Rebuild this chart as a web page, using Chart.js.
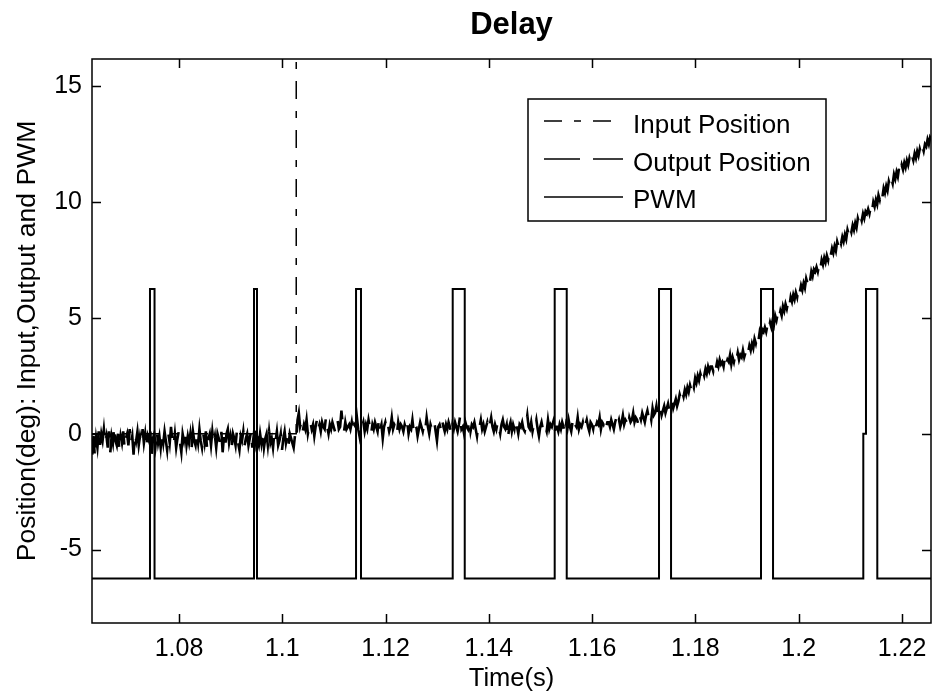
<!DOCTYPE html>
<html>
<head>
<meta charset="utf-8">
<title>Delay</title>
<script src="https://cdn.jsdelivr.net/npm/chart.js@4.4.1/dist/chart.umd.min.js"></script>
<style>
  html, body { margin: 0; padding: 0; background: #fff; }
  canvas { display: block; }
</style>
</head>
<body>
<canvas id="grafico" width="932" height="698"></canvas>
<script>
// limites dos eixos
const X_MIN = 1.06315, X_MAX = 1.22562;
const Y_MIN = -8.17, Y_MAX = 16.18;

const xTickValues = [1.08, 1.10, 1.12, 1.14, 1.16, 1.18, 1.20, 1.22];
const xTickLabels = ['1.08', '1.1', '1.12', '1.14', '1.16', '1.18', '1.2', '1.22'];
const yTickValues = [-5, 0, 5, 10, 15];
const yTickLabels = ['-5', '0', '5', '10', '15'];

// entrada: degrau em t = 1.1027 (sai do topo do grafico)
const inputTimes = [1.06315, 1.1027, 1.1027, 1.22562];
const inputValues = [0, 0, 40, 40];

// saida: amostrada a cada 0.25 ms a partir de 1.0632 s (uma linha = 10 ms)
const outputStart = 1.0632;
const outputStep = 0.00025;
const outputValues = [
  -0.9, -0.1, -1.0, -0.2, -0.6, 0.1, -0.5, 0.0, -0.3, 0.2, -0.4, -0.1, -0.6, 0.1, -0.8, -0.1, -0.4, 0.3, -0.3, -0.5,
  0.0, -0.7, -0.1, -0.4, 0.1, -0.6, -0.2, 0.0, -0.5, 0.2, -0.4, -0.1, -0.9, 0.0, -0.3, 0.1, -0.5, -0.1, -0.4, 0.2,
  -0.4, 0.0, -0.6, -0.1, -0.3, 0.1, -1.0, -0.2, 0.0, -0.5, 0.1, -0.4, -0.1, -0.6, 0.0, -0.4, 0.1, -0.3, -0.7, 0.0,
  -0.4, 0.3, -0.3, -0.5, 0.0, -0.6, -0.2, 0.1, -0.4, -0.8, 0.0, -0.3, 0.1, -0.5, -0.1, -0.4, 0.0, -0.6, 0.1, -0.3,
  -0.5, 0.0, -0.4, 0.2, -0.3, -0.6, 0.0, -0.4, 0.1, -0.7, -0.2, 0.0, -0.5, 0.1, -0.4, -0.1, -0.6, 0.0, -0.2, -0.4,
  0.1, -0.8, -0.1, -0.5, 0.0, 0.2, -0.4, -0.1, -0.6, 0.0, -0.2, -0.5, 0.1, -0.4, -0.7, -0.1, -0.3, 0.1, -0.5, -0.2,
  0.0, -0.5, -0.2, 0.1, -0.6, -0.1, -0.4, 0.3, -0.3, -0.5, 0.0, -0.4, 0.1, -0.6, -0.2, 0.0, -0.5, 0.1, -0.4, -0.2,
  -0.6, 0.0, -0.3, 0.1, -0.5, -0.3, 0.0, -0.7, -0.2, 0.1, -0.4, -0.1, -0.5, 0.0, -0.2, -0.4, -0.6, -0.1, -0.3, 0.6,
  0.9, 0.3, 0.5, 0.1, 0.4, 0.2, 0.6, 0.0, 0.3, 0.5, 0.2, 0.4, -0.1, 0.3, 0.6, 0.2, 0.4, 0.1, 0.5, 0.3,
  0.2, 0.7, 0.3, 0.0, 0.4, 0.2, 0.5, 0.3, 0.1, 0.4, 0.6, 0.2, 0.3, 1.0, 0.4, 0.1, 0.5, 0.2, 0.3, 0.4,
  0.2, 0.5, 0.1, 0.4, 0.3, 0.7, 0.2, -0.1, 0.4, 0.3, 0.5, 0.1, 0.4, 0.2, 0.6, 0.3, 0.0, 0.4, 0.2, 0.5,
  0.3, 0.1, 0.6, 0.2, 0.4, -0.2, 0.3, 0.5, 0.2, 0.4, 0.1, 0.3, 0.7, 0.2, 0.4, 0.3, 0.0, 0.5, 0.2, 0.4,
  0.3, 0.1, 0.4, 0.2, 0.5, 0.0, 0.3, 0.2, 0.6, 0.1, 0.4, 0.3, -0.1, 0.2, 0.5, 0.3, 0.1, 0.4, 0.2, 0.7,
  0.3, 0.0, 0.4, 0.2, 0.3, 0.5, 0.1, -0.3, 0.3, 0.4, 0.2, 0.6, 0.3, 0.1, 0.4, 0.2, 0.5, 0.3, 0.0, 0.4,
  0.2, 0.5, 0.3, 0.1, 0.4, 0.8, 0.2, 0.3, 0.0, 0.5, 0.3, 0.2, 0.6, 0.1, 0.4, 0.3, 0.5, 0.2, -0.1, 0.4,
  0.3, 0.6, 0.2, 0.4, 0.1, 0.3, 0.5, 0.2, 0.4, 0.7, 0.3, 0.1, 0.4, 0.2, 0.5, 0.3, 0.0, 0.4, 0.6, 0.3,
  0.2, 0.4, -0.2, 0.3, 0.5, 0.1, 0.4, 0.2, 0.6, 0.3, 0.0, 0.4, 0.3, 0.5, 0.2, 0.1, 0.4, 0.8, 0.3, 0.2,
  0.5, 0.1, 0.4, 0.3, 0.6, 0.2, -0.1, 0.3, 0.5, 0.2, 0.4, 0.3, 0.1, 0.6, 0.2, 0.4, 0.3, 0.5, 0.0, 0.3,
  0.3, 0.1, 0.4, 0.2, 0.5, 0.3, 0.0, 0.4, 0.2, 0.6, 0.3, 0.1, 0.5, 0.2, 0.4, 0.3, 0.7, 0.2, 0.4, 0.3,
  0.5, 0.2, 0.4, 0.6, 0.3, 0.1, 0.5, 0.4, 0.2, 0.6, 0.3, 0.5, 0.4, 0.7, 0.2, 0.5, 0.4, 0.6, 0.3, 0.5,
  0.5, 0.3, 0.6, 0.4, 0.2, 0.5, 0.7, 0.4, 0.6, 0.3, 0.5, 0.8, 0.4, 0.6, 0.5, 0.3, 0.7, 0.5, 0.6, 0.9,
  0.5, 0.7, 0.6, 0.4, 0.8, 0.6, 0.9, 0.7, 0.5, 0.8, 1.0, 0.7, 0.9, 0.6, 1.1, 0.8, 0.9, 1.2, 0.8, 1.0,
  1.1, 0.8, 1.0, 1.2, 0.9, 1.1, 1.3, 1.0, 1.2, 1.4, 1.1, 1.3, 1.5, 1.2, 1.4, 1.7, 1.5, 1.8, 1.6, 1.9,
  1.7, 2.0, 1.8, 2.1, 1.9, 2.2, 2.0, 2.4, 2.2, 2.5, 2.3, 2.6, 2.4, 2.7, 2.5, 2.8, 2.6, 2.9, 2.7, 2.9,
  2.9, 2.7, 3.0, 2.8, 3.1, 2.9, 3.2, 3.0, 3.1, 2.9, 3.3, 3.0, 3.2, 3.1, 3.4, 3.0, 3.3, 3.1, 3.4, 3.2,
  3.5, 3.2, 3.4, 3.3, 3.6, 3.3, 3.5, 3.7, 3.5, 3.8, 3.6, 3.9, 3.7, 4.1, 3.9, 4.2, 4.0, 4.4, 4.2, 4.5,
  4.4, 4.6, 4.4, 4.7, 4.5, 4.8, 4.6, 4.9, 4.7, 5.1, 4.9, 5.2, 5.0, 5.3, 5.1, 5.5, 5.3, 5.6, 5.4, 5.7,
  5.5, 5.9, 5.7, 6.0, 5.8, 6.1, 5.9, 6.3, 6.1, 6.4, 6.2, 6.5, 6.3, 6.7, 6.5, 6.8, 6.6, 7.0, 6.8, 7.1,
  7.0, 7.2, 7.0, 7.3, 7.1, 7.5, 7.3, 7.6, 7.4, 7.7, 7.5, 7.9, 7.7, 8.0, 7.8, 8.1, 7.9, 8.3, 8.1, 8.4,
  8.2, 8.5, 8.3, 8.6, 8.4, 8.8, 8.6, 8.9, 8.7, 9.0, 8.8, 9.1, 8.9, 9.3, 9.1, 9.4, 9.2, 9.5, 9.3, 9.6,
  9.5, 9.7, 9.5, 9.8, 9.6, 10.0, 9.8, 10.1, 9.9, 10.3, 10.1, 10.4, 10.2, 10.6, 10.4, 10.7, 10.5, 10.9, 10.7, 11.0,
  10.8, 11.2, 11.0, 11.3, 11.1, 11.5, 11.3, 11.6, 11.4, 11.7, 11.5, 11.8, 11.6, 11.9, 11.7, 12.0, 11.8, 12.1, 11.9, 12.2,
  12.0, 12.3, 12.1, 12.4, 12.2, 12.5, 12.4, 12.7, 12.5, 12.8, 12.7
];

// PWM: pulsos de +-6.25
const pwmTimes = [
  1.06315,
  1.07438, 1.07438, 1.07526, 1.07526,
  1.09452, 1.09452, 1.09510, 1.09510,
  1.11428, 1.11428, 1.11524, 1.11524,
  1.13300, 1.13300, 1.13533, 1.13533,
  1.15275, 1.15275, 1.15508, 1.15508,
  1.17295, 1.17295, 1.17528, 1.17528,
  1.19270, 1.19270, 1.19503, 1.19503,
  1.21251, 1.21251, 1.21303, 1.21303, 1.21522, 1.21522,
  1.22562
];
const pwmValues = [
  -6.25,
  -6.25, 6.25, 6.25, -6.25,
  -6.25, 6.25, 6.25, -6.25,
  -6.25, 6.25, 6.25, -6.25,
  -6.25, 6.25, 6.25, -6.25,
  -6.25, 6.25, 6.25, -6.25,
  -6.25, 6.25, 6.25, -6.25,
  -6.25, 6.25, 6.25, -6.25,
  -6.25, 0, 0, 6.25, 6.25, -6.25,
  -6.25
];

const FONTE = '"Liberation Sans", Arial, Helvetica, sans-serif';
const TICK = 9;

function juntaPontos(xs, ys) {
  return xs.map((x, i) => ({ x: x, y: ys[i] }));
}

// caixa estilo matlab com ticks para dentro
const caixaMatlab = {
  id: 'caixaMatlab',
  afterDatasetsDraw(chart) {
    const { ctx, chartArea: a, scales } = chart;
    ctx.save();
    ctx.strokeStyle = '#000';
    ctx.lineWidth = 1.5;
    ctx.strokeRect(a.left, a.top, a.right - a.left, a.bottom - a.top);
    ctx.beginPath();
    scales.x.ticks.forEach(t => {
      const px = Math.round(scales.x.getPixelForValue(t.value)) + 0.5;
      ctx.moveTo(px, a.bottom); ctx.lineTo(px, a.bottom - TICK);
      ctx.moveTo(px, a.top); ctx.lineTo(px, a.top + TICK);
    });
    scales.y.ticks.forEach(t => {
      const py = Math.round(scales.y.getPixelForValue(t.value)) + 0.5;
      ctx.moveTo(a.left, py); ctx.lineTo(a.left + TICK, py);
      ctx.moveTo(a.right, py); ctx.lineTo(a.right - TICK, py);
    });
    ctx.stroke();
    ctx.restore();
  }
};

// legenda dentro da area do grafico
const legendaInterna = {
  id: 'legendaInterna',
  afterDraw(chart) {
    const { ctx, chartArea: a } = chart;
    const x0 = a.left + 436, y0 = a.top + 40, w = 298, h = 122;
    ctx.save();
    ctx.fillStyle = '#fff';
    ctx.fillRect(x0, y0, w, h);
    ctx.strokeStyle = '#000';
    ctx.lineWidth = 1.5;
    ctx.strokeRect(x0, y0, w, h);
    const linhas = [22, 60, 98];
    const bases = [34, 72, 109];
    chart.data.datasets.forEach((ds, i) => {
      ctx.beginPath();
      ctx.setLineDash(ds.borderDash || []);
      ctx.lineWidth = 1.5;
      ctx.moveTo(x0 + 16, y0 + linhas[i]);
      ctx.lineTo(x0 + 95, y0 + linhas[i]);
      ctx.stroke();
      ctx.setLineDash([]);
      ctx.fillStyle = '#000';
      ctx.font = '26px ' + FONTE;
      ctx.textBaseline = 'alphabetic';
      ctx.fillText(ds.label, x0 + 105, y0 + bases[i]);
    });
    ctx.restore();
  }
};

const ctx = document.getElementById('grafico');

new Chart(ctx, {
  type: 'line',
  data: {
    datasets: [
      {
        label: 'Input Position',
        data: juntaPontos(inputTimes, inputValues),
        borderColor: '#000',
        borderWidth: 1.5,
        borderDash: [18, 12, 7, 12],
        order: 3
      },
      {
        label: 'Output Position',
        data: outputValues.map((v, i) => ({ x: outputStart + i * outputStep, y: v })),
        borderColor: '#000',
        borderWidth: 2.6,
        borderDash: [36, 13],
        order: 2
      },
      {
        label: 'PWM',
        data: juntaPontos(pwmTimes, pwmValues),
        borderColor: '#000',
        borderWidth: 2,
        order: 1
      }
    ]
  },
  options: {
    responsive: false,
    animation: false,
    devicePixelRatio: 1,
    parsing: false,
    elements: { point: { radius: 0 }, line: { tension: 0, fill: false } },
    layout: { padding: { left: 0, right: 1, top: 0, bottom: 0 } },
    plugins: {
      legend: { display: false },
      tooltip: { enabled: false },
      title: {
        display: true,
        fullSize: false,
        text: 'Delay',
        color: '#000',
        font: { family: FONTE, size: 31, weight: 'bold', lineHeight: 1.2 },
        padding: { top: 6.7, bottom: 15.1 }
      }
    },
    scales: {
      x: {
        type: 'linear',
        min: X_MIN,
        max: X_MAX,
        grid: { display: false, drawTicks: false },
        border: { display: false },
        afterBuildTicks: s => { s.ticks = xTickValues.map(v => ({ value: v })); },
        afterFit: s => { s.height = 75; s.paddingLeft = 0; s.paddingRight = 0; },
        ticks: {
          color: '#000',
          font: { family: FONTE, size: 25 },
          padding: 11,
          maxRotation: 0,
          autoSkip: false,
          callback: (v, i) => xTickLabels[i]
        },
        title: {
          display: true,
          text: 'Time(s)',
          color: '#000',
          font: { family: FONTE, size: 25.5 },
          padding: { top: 0, bottom: 4 }
        }
      },
      y: {
        type: 'linear',
        min: Y_MIN,
        max: Y_MAX,
        grid: { display: false, drawTicks: false },
        border: { display: false },
        afterBuildTicks: s => { s.ticks = yTickValues.map(v => ({ value: v })); },
        afterFit: s => { s.width = 92; s.paddingTop = 0; s.paddingBottom = 0; },
        ticks: {
          color: '#000',
          font: { family: FONTE, size: 25 },
          padding: 10,
          callback: (v, i) => yTickLabels[i]
        },
        title: {
          display: true,
          text: 'Position(deg): Input,Output and PWM',
          color: '#000',
          font: { family: FONTE, size: 26.5 },
          padding: { top: 12, bottom: 0 }
        }
      }
    }
  },
  plugins: [caixaMatlab, legendaInterna]
});
</script>
</body>
</html>
